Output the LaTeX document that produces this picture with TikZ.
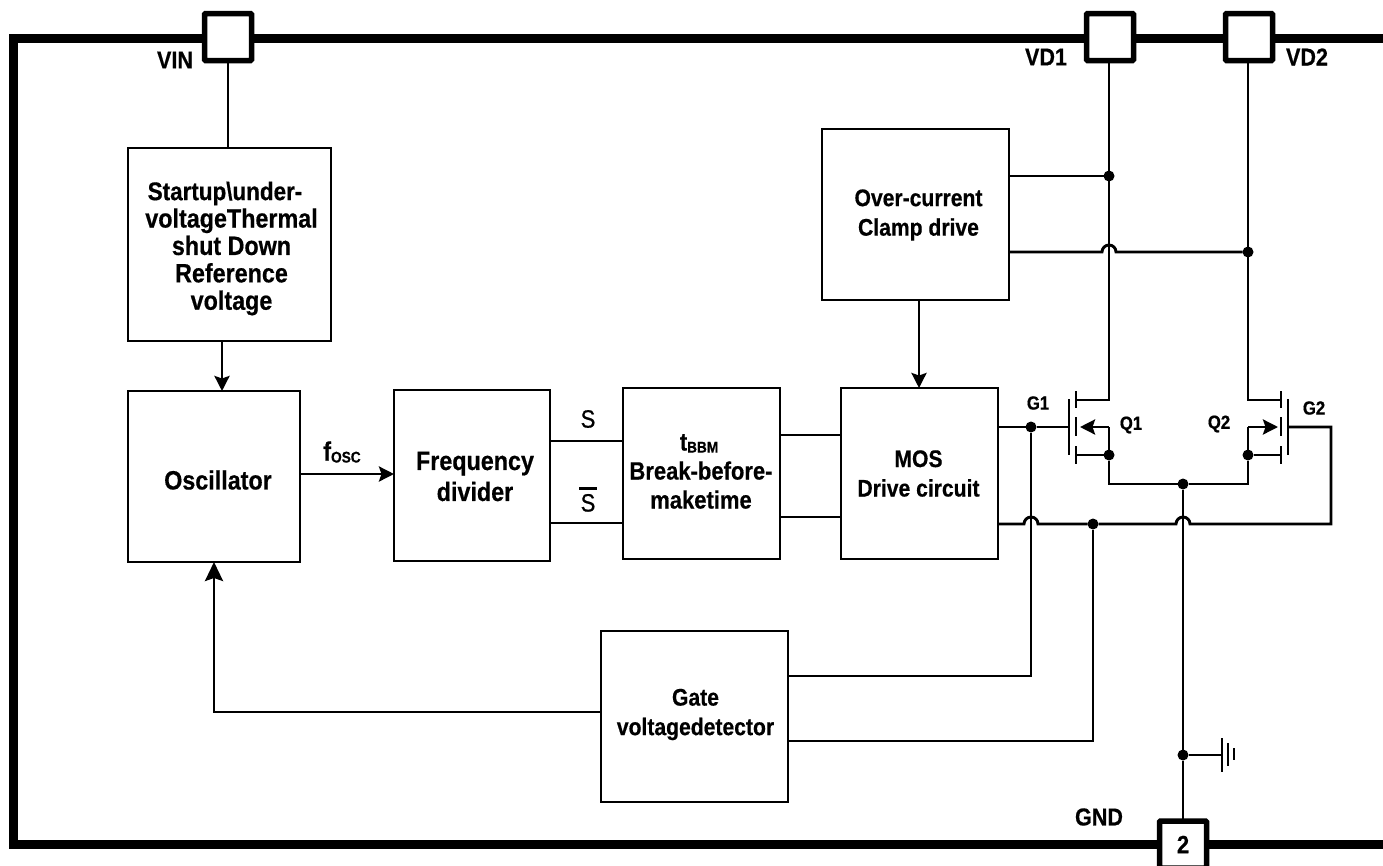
\documentclass[tikz,border=0pt]{standalone}
\usepackage{fontspec}
\usetikzlibrary{arrows.meta}
\newfontfamily\cbf[FakeStretch=0.88,FakeBold=0.5]{Liberation Sans}
\newfontfamily\cmf[FakeStretch=0.88,FakeBold=0.6]{Liberation Sans}
\tikzset{
  x=1pt,y=-1pt,
  wire/.style={line width=2.9pt,line cap=butt,line join=miter},
  arr/.style={wire,-{Stealth[length=15pt,width=15pt,inset=2.5pt]}},
  bigarr/.style={wire,-{Stealth[length=19pt,width=18pt,inset=3pt]}},
  bus/.style={line width=9pt,line join=miter},
  pin/.style={draw,fill=white,line width=5.5pt,rounded corners=1pt,minimum width=47pt,minimum height=47pt,inner sep=0,outer sep=0,font=\cbf\bfseries\fontsize{25}{27}\selectfont},
  blk/.style={draw,line width=2.9pt,inner sep=0,outer sep=0},
  dot/.style={circle,fill=black,inner sep=0,outer sep=0,minimum size=11pt},
  bigtxt/.style={align=center,inner sep=0,font=\cbf\bfseries\fontsize{26.5}{27.4}\selectfont},
  divtxt/.style={align=center,inner sep=0,font=\cbf\bfseries\fontsize{26.5}{31}\selectfont},
  bbmtxt/.style={align=center,inner sep=0,font=\cbf\bfseries\fontsize{25}{29}\selectfont},
  midtxt/.style={align=center,inner sep=0,font=\cbf\bfseries\fontsize{24}{29.5}\selectfont},
  lab/.style={inner sep=0,font=\cbf\bfseries\fontsize{24.5}{27}\selectfont},
  smlab/.style={inner sep=0,font=\cbf\bfseries\fontsize{19}{21}\selectfont},
  siglab/.style={inner sep=0,font=\cmf\fontsize{25}{27}\selectfont},
}
\newcommand{\subtxt}[1]{\raisebox{-2pt}{\fontsize{15.5}{17}\selectfont #1}}
\begin{document}
\begin{tikzpicture}
\path[use as bounding box,clip] (0,0) rectangle (1383,865);
\fill[white] (0,0) rectangle (1383,865);
% outer bus
\coordinate (busTR) at (1390,38);
\coordinate (busTL) at (13,38);
\coordinate (busBL) at (13,844);
\coordinate (busBR) at (1390,844);
\draw[bus] (busTR) -- (busTL) -- (busBL) -- (busBR);
% pins
\node[pin] (vin) at (228,37) {};
\node[pin] (vd1) at (1110,37) {};
\node[pin] (vd2) at (1249,37) {};
\node[pin] (gnd) at (1183,844.5) {2};
% blocks
\node[blk,minimum width=203pt,minimum height=193pt] (startup) at (229.5,244.5) {};
\node[blk,minimum width=172pt,minimum height=171pt] (osc) at (214,476.5) {};
\node[blk,minimum width=156pt,minimum height=171pt] (div) at (472,475.5) {};
\node[blk,minimum width=157pt,minimum height=171pt] (bbm) at (701.5,473.5) {};
\node[blk,minimum width=157pt,minimum height=171pt] (mos) at (919.5,473.5) {};
\node[blk,minimum width=187pt,minimum height=171pt] (ocp) at (915.5,214.5) {};
\node[blk,minimum width=187pt,minimum height=171pt] (gdet) at (694.5,716.5) {};
% block texts
\node[bigtxt] (startupT) at (231.5,248.5) {{\fontsize{25.5}{27.4}\selectfont Startup\textbackslash under-}\hspace*{13pt}\\voltageThermal\\shut Down\\Reference\\voltage};
\node[bigtxt] (oscT) at (218,480) {Oscillator};
\node[divtxt] (divT) at (475,476.5) {Frequency\\divider};
\node[bbmtxt] (bbmT) at (701,471.5) {t\subtxt{BBM}\hspace*{4pt}\\Break-before-\\maketime};
\node[midtxt] (mosT) at (918.5,473.5) {MOS\\Drive circuit};
\node[midtxt] (ocpT) at (918.5,215) {Over-current\\Clamp drive};
\node[midtxt] (gdetT) at (695.5,714.5) {Gate\\voltagedetector};
% pin labels
\node[lab] (vinL) at (175,60) {VIN};
\node[lab] (vd1L) at (1046,57) {VD1};
\node[lab] (vd2L) at (1307,57) {VD2};
\node[lab] (gndL) at (1099,817) {GND};
% signal labels
\node[bigtxt] (fosc) at (342,452) {f\subtxt{OSC}};
\node[siglab] (sL) at (588,419) {S};
\node[siglab,anchor=base] (sbL) at (588,511.5) {\rlap{\hspace*{-1.65pt}\rule[21.5pt]{18pt}{2.6pt}}S};
\node[smlab] (g1L) at (1038,403) {G1};
\node[smlab] (g2L) at (1314,408) {G2};
\node[smlab] (q1L) at (1131,425) {Q1};
\node[smlab] (q2L) at (1219,424) {Q2};
% junctions
\node[dot] (jd1) at (1109,176) {};
\node[dot] (jd2) at (1248,252) {};
\node[dot] (jg1) at (1031,427) {};
\node[dot] (js1) at (1109,455) {};
\node[dot] (js2) at (1248,455) {};
\node[dot] (jss) at (1183,484) {};
\node[dot] (jg2) at (1093,524) {};
\node[dot] (jgnd) at (1183,755) {};
% helper coordinates
\coordinate (xst) at (222,0);
\coordinate (xmos) at (919,0);
\coordinate (xfb) at (214,0);
\coordinate (yf) at (0,474);
\coordinate (ys) at (0,441);
\coordinate (ysb) at (0,523);
\coordinate (ybs) at (0,435);
\coordinate (ybsb) at (0,517);
\coordinate (yfb) at (0,712);
\coordinate (ydet1) at (0,676);
\coordinate (ydet2) at (0,741);
\coordinate (g1bar) at (1069,427);
\coordinate (g2bar) at (1288,427);
\coordinate (d1ch) at (1076,400);
\coordinate (d2ch) at (1281,400);
\coordinate (s1ch) at (1076,455);
\coordinate (s2ch) at (1281,455);
\coordinate (d1t) at (1109,400);
\coordinate (d2t) at (1248,400);
\coordinate (s1t) at (1109,427);
\coordinate (s2t) at (1248,427);
\coordinate (a1) at (1080,427);
\coordinate (a2) at (1278,427);
\coordinate (g2r) at (1331,427);
\coordinate (g2rb) at (1331,524);
\coordinate (j1b) at (1109,484);
\coordinate (j2b) at (1248,484);
\coordinate (gndbar) at (1222,755);
% connectors
\draw[wire] (vin.south) -- (vin.south |- startup.north);
\draw[arr] (startup.south -| xst) -- (osc.north -| xst);
\draw[arr] (osc.east |- yf) -- (div.west |- yf);
\draw[wire] (div.east |- ys) -- (bbm.west |- ys);
\draw[wire] (div.east |- ysb) -- (bbm.west |- ysb);
\draw[wire] (bbm.east |- ybs) -- (mos.west |- ybs);
\draw[wire] (bbm.east |- ybsb) -- (mos.west |- ybsb);
\draw[arr] (ocp.south -| xmos) -- (mos.north -| xmos);
\draw[bigarr] (gdet.west |- yfb) -- (xfb |- yfb) -- (osc.south -| xfb);
% drains
\draw[wire] (d1ch) -- (d1t) -- (d1t |- vd1.south);
\draw[wire] (d2ch) -- (d2t) -- (d2t |- vd2.south);
% over-current sense
\draw[wire] (ocp.east |- jd1) -- (jd1);
\draw[wire] (ocp.east |- jd2) -- ++(93,0) arc[start angle=180,end angle=0,radius=7pt] -- (jd2);
% MOS gate 1 and detector
\draw[wire] (mos.east |- jg1) -- (jg1) -- (g1bar);
\draw[wire] (gdet.east |- ydet1) -- (jg1 |- ydet1) -- (jg1);
% gate 2 rail with jumps
\draw[wire] (mos.east |- jg2) -- (1024,524) arc[start angle=180,end angle=0,radius=7pt] -- (jg2) -- (1176,524) arc[start angle=180,end angle=0,radius=7pt] -- (g2rb) -- (g2r) -- (g2bar);
\draw[wire] (gdet.east |- ydet2) -- (jg2 |- ydet2) -- (jg2);
% sources
\draw[arr] (s1t) -- (a1);
\draw[arr] (s2t) -- (a2);
\draw[wire] (s1ch) -- (js1);
\draw[wire] (s2ch) -- (js2);
\draw[wire] (s1t) -- (js1) -- (j1b) -- (jss) -- (j2b) -- (js2) -- (s2t);
\draw[wire] (jss) -- (jgnd) -- (jgnd |- gnd.north);
% transistor symbols
\draw[wire] (1069,399) -- (1069,455);
\draw[wire] (1076,391) -- (1076,408);
\draw[wire] (1076,417) -- (1076,436);
\draw[wire] (1076,446) -- (1076,464);
\draw[wire] (1288,399) -- (1288,455);
\draw[wire] (1281,391) -- (1281,408);
\draw[wire] (1281,417) -- (1281,436);
\draw[wire] (1281,446) -- (1281,464);
% ground symbol
\draw[wire] (jgnd) -- (gndbar);
\draw[wire] (1222,738) -- (1222,772);
\draw[wire] (1228,743) -- (1228,766);
\draw[wire] (1234,748) -- (1234,760);
\end{tikzpicture}
\end{document}
